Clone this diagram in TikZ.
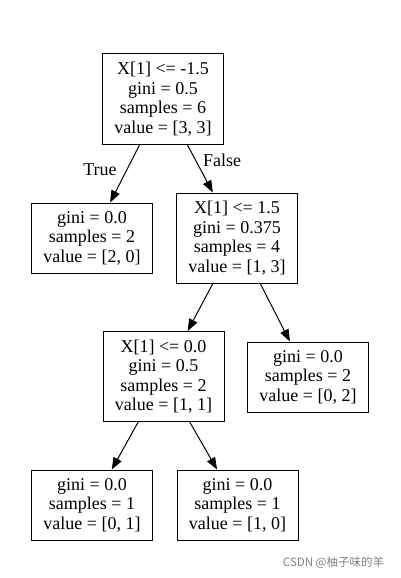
\documentclass[tikz,border=0pt]{standalone}
\usepackage{fontspec}
\setmainfont{Liberation Serif}
\newfontfamily\cjkwm{Noto Sans CJK SC}
\usetikzlibrary{arrows.meta}
\begin{document}
\begin{tikzpicture}[x=1pt,y=-1pt,
  treenode/.style={draw=black,line width=1pt,rectangle,align=center,inner sep=0pt,
    font=\fontsize{18}{19.5}\selectfont,minimum width=121pt},
  four/.style={minimum height=90pt},
  three/.style={minimum height=70pt},
  edge/.style={line width=1pt,-{Triangle[length=12pt,width=9pt]}},
  elabel/.style={font=\fontsize{18}{18}\selectfont}]
\useasboundingbox[fill=white] (0,0) rectangle (401,578);
\node[treenode,four] (root) at (163,99) {X[1] <= -1.5\\gini = 0.5\\samples = 6\\value = [3, 3]};
\node[treenode,three] (l1) at (92,238) {gini = 0.0\\samples = 2\\value = [2, 0]};
\node[treenode,four] (n2) at (237,238) {X[1] <= 1.5\\gini = 0.375\\samples = 4\\value = [1, 3]};
\node[treenode,four] (n3) at (163.5,376.5) {X[1] <= 0.0\\gini = 0.5\\samples = 2\\value = [1, 1]};
\node[treenode,three] (l2) at (308,377) {gini = 0.0\\samples = 2\\value = [0, 2]};
\node[treenode,three] (l3) at (92,505) {gini = 0.0\\samples = 1\\value = [0, 1]};
\node[treenode,three] (l4) at (237.5,505) {gini = 0.0\\samples = 1\\value = [1, 0]};
\draw[edge] (root) -- (l1);
\draw[edge] (root) -- (n2);
\draw[edge] (n2) -- (n3);
\draw[edge] (n2) -- (l2);
\draw[edge] (n3) -- (l3);
\draw[edge] (n3) -- (l4);
\node[elabel] (tlab) at (100,170) {True};
\node[elabel] (flab) at (222,160) {False};
\node[font=\cjkwm\fontsize{11.5}{13}\selectfont,text=black!50] (wm) at (333.5,563) {CSDN @柚子味的羊};
\end{tikzpicture}
\end{document}
